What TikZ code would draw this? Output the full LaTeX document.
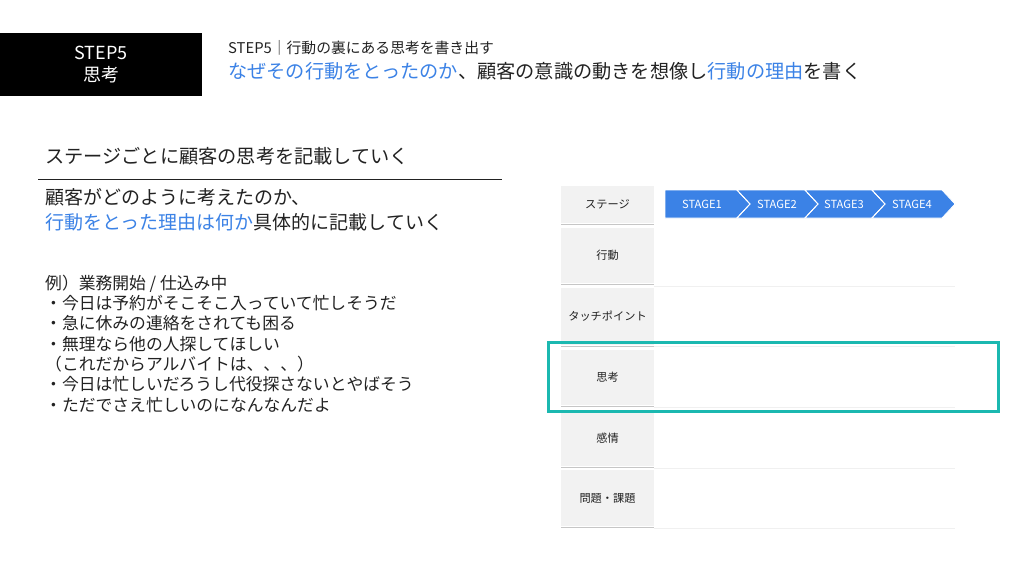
\documentclass[tikz,border=0pt]{standalone}
\usepackage{fontspec}
\setmainfont{Noto Sans CJK JP}
\definecolor{hblue}{HTML}{3B82E6}
\definecolor{teal2}{HTML}{1BB8B0}
\definecolor{cellg}{HTML}{F2F2F2}
\definecolor{txt}{HTML}{222222}
\begin{document}
\begin{tikzpicture}[x=1pt,y=-1pt,
  lab/.style={anchor=west,inner sep=0pt,text=txt},
  cell/.style={fill=cellg,draw=none},
  stg/.style={fill=hblue,draw=white,line width=0.8pt},
  stt/.style={text=white,font=\fontsize{11.2}{12}\selectfont}]
\useasboundingbox (0,0) rectangle (1024,576);
\fill[white] (0,0) rectangle (1024,576);
\fill[black] (0,33) rectangle (202,96);
\node[text=white,font=\fontsize{18}{22}\selectfont,align=center] (stepbox) at (101,64.5) {STEP5\\思考};
\node[lab,font=\fontsize{14.8}{16}\selectfont] (h1) at (228,48) {STEP5｜行動の裏にある思考を書き出す};
\node[lab,font=\fontsize{19.2}{20}\selectfont] (h2) at (228,71) {\textcolor{hblue}{なぜその行動をとったのか}、顧客の意識の動きを想像し\textcolor{hblue}{行動の理由}を書く};
\node[lab,font=\fontsize{19.2}{20}\selectfont] (t1) at (45,156) {ステージごとに顧客の思考を記載していく};
\draw[line width=1pt,txt] (38,179) -- (502,179);
\node[lab,font=\fontsize{19}{20}\selectfont] (b1) at (45,197) {顧客がどのように考えたのか、};
\node[lab,font=\fontsize{19}{20}\selectfont] (b2) at (45,222) {\textcolor{hblue}{行動をとった理由は何か}具体的に記載していく};
\foreach \t/\y [count=\i] in {{例）業務開始 / 仕込み中}/284,・今日は予約がそこそこ入っていて忙しそうだ/303,・急に休みの連絡をされても困る/323,・無理なら他の人探してほしい/344,（これだからアルバイトは、、、）/364,・今日は忙しいだろうし代役探さないとやばそう/384,・ただでさえ忙しいのになんなんだよ/405}
  \node[lab,font=\fontsize{16.8}{18}\selectfont] (e\i) at (45,\y) {\t};
% table
\foreach \a/\b/\t [count=\i] in {186/223/ステージ,228/283/行動,288/345/タッチポイント,350/405/思考,410/466/感情,470/526/問題・課題}{
  \fill[cellg] (561,\a) rectangle (654,\b);
  \draw[gray!45,line width=0.7pt] (561,\b+1) -- (654,\b+1);
  \node[text=txt,font=\fontsize{11.2}{12}\selectfont] (r\i) at (607.5,{(\a+\b)/2}) {\t};
}
\foreach \y in {286,346,407,468,528} \draw[gray!12,line width=0.7pt] (654,\y) -- (955,\y);
% chevrons
\fill[stg] (665,190) -- (737,190) -- (750,204) -- (737,218) -- (665,218) -- cycle;
\fill[stg] (737,190) -- (805,190) -- (818,204) -- (805,218) -- (737,218) -- (750,204) -- cycle;
\fill[stg] (805,190) -- (872,190) -- (885,204) -- (872,218) -- (805,218) -- (818,204) -- cycle;
\fill[stg] (872,190) -- (942,190) -- (955,204) -- (942,218) -- (872,218) -- (885,204) -- cycle;
\draw[white,line width=0.8pt] (737,190) -- (750,204) -- (737,218) (805,190) -- (818,204) -- (805,218) (872,190) -- (885,204) -- (872,218);
\node[stt] (s1) at (702,204) {STAGE1};
\node[stt] (s2) at (777,204) {STAGE2};
\node[stt] (s3) at (844,204) {STAGE3};
\node[stt] (s4) at (912,204) {STAGE4};
\draw[teal2,line width=3pt] (548,342) rectangle (998,411);
\end{tikzpicture}
\end{document}
